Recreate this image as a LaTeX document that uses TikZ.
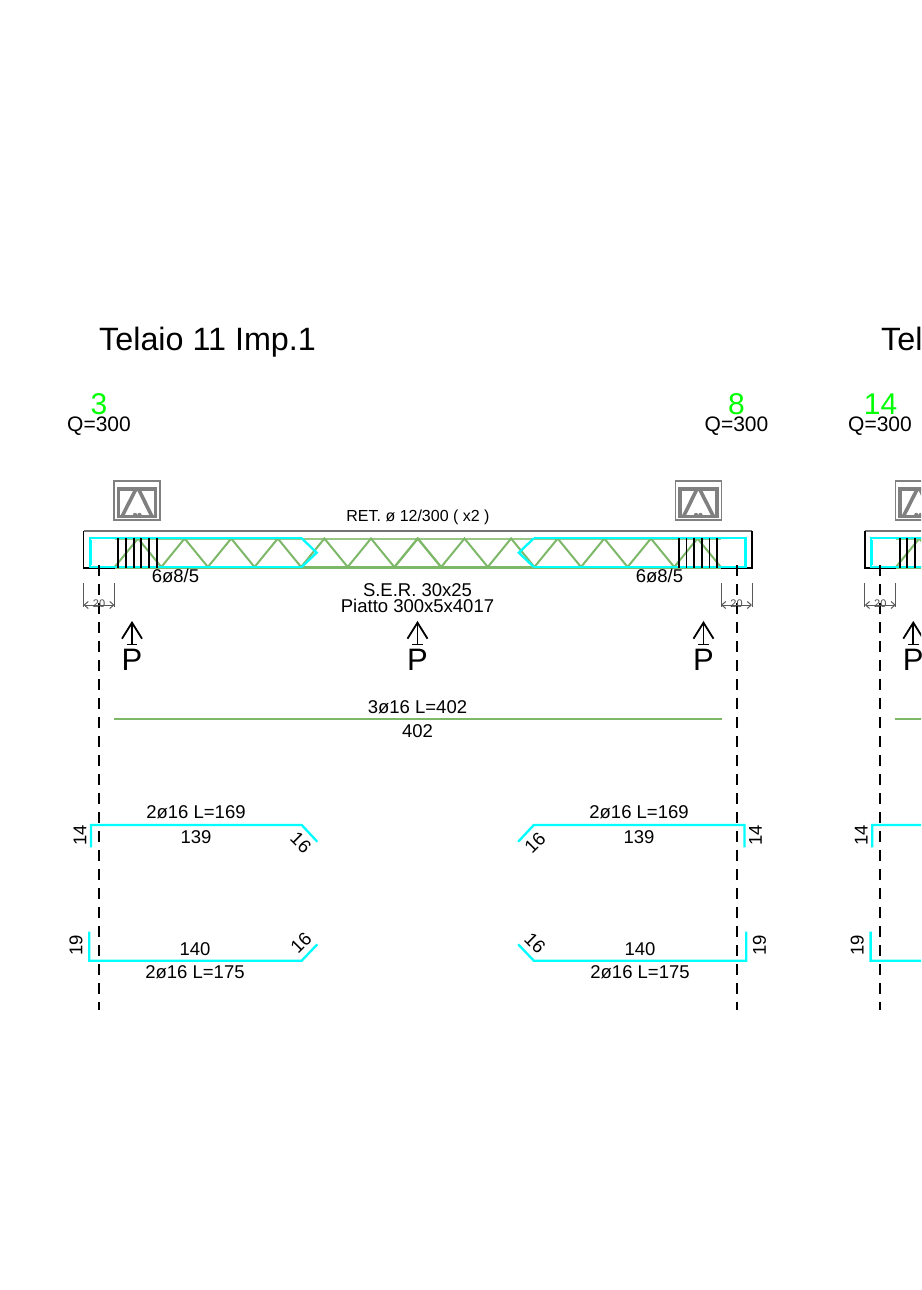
\documentclass[tikz,border=0pt]{standalone}
\usepackage{fontspec}
\setmainfont{Liberation Sans}
\usetikzlibrary{arrows.meta,positioning}
\definecolor{barcyan}{HTML}{00FFFF}
\definecolor{trussgreen}{HTML}{7DB868}
\definecolor{markgreen}{HTML}{00FF00}
\definecolor{sectgray}{HTML}{808080}
\tikzset{
    %Define text styles
    lbl/.style={
           anchor=base,
           inner sep=0pt,
           font=\fontsize{18.5}{20}\selectfont},
    ret/.style={lbl, font=\fontsize{16}{18}\selectfont},
    small/.style={lbl, font=\fontsize{11}{12}\selectfont, text=black!70},
    marknum/.style={lbl, text=markgreen, font=\fontsize{30}{32}\selectfont},
    load/.style={lbl, font=\fontsize{21}{23}\selectfont},
    title/.style={lbl, anchor=base west, font=\fontsize{32.3}{35}\selectfont},
    bigp/.style={lbl, font=\fontsize{31}{33}\selectfont},
    side/.style={inner sep=0pt, font=\fontsize{18.5}{20}\selectfont},
    %Define line styles
    rebar/.style={draw=barcyan, line width=2.3pt},
    truss/.style={draw=trussgreen, line width=2pt},
    stirrup/.style={draw=black, line width=1.9pt},
    axisline/.style={draw=black, line width=2pt, dash pattern=on 11pt off 8pt},
    sect/.style={draw=sectgray, line width=3.6pt},
    sectthin/.style={draw=sectgray, line width=1.6pt},
    dimline/.style={draw=black!65, line width=1pt},
    dimarrow/.style={dimline, {Straight Barb[length=4pt,width=7pt]}-{Straight Barb[length=4pt,width=7pt]}},
    parrow/.style={draw=black, line width=1.8pt, -{Straight Barb[length=16pt,width=20pt]}},
    pbar/.style={draw=black, line width=1.8pt}
}
% load mark with its letter
\newcommand{\loadp}[2]{
 \node[bigp] (#1) at (#2,670.7) {P};
 \draw[parrow] ([yshift=4.7pt]#1.north) -- ++(0,-23.5);
 \draw[pbar] ([xshift=-5.3pt,yshift=4.7pt]#1.north) -- ([xshift=5.3pt,yshift=4.7pt]#1.north);
}
% one half of a frame, drawn from its left end
\newcommand{\beamend}[1]{
 %section
 \draw[sectthin] (114,481) rectangle (160,520);
 \draw[sect] (118.5,516.5) -- (118.5,489) -- (155.5,489) -- (155.5,516.5) -- cycle;
 \draw[sect] (136,489) -- (122,516.5);
 \draw[sect] (138.5,489) -- (152,516.5);
 \fill[sectgray] (135,515) circle (2.2pt) (139.5,515) circle (2.2pt);
 %beam outline
 \draw[draw=black!55, line width=1.6pt] (83.5,531) -- (417.75,531);
 \draw[draw=black, line width=1.8pt] (83.5,531) -- (83.5,568) -- (115,568);
 %truss
 \draw[truss, draw=trussgreen!80] (115,538.5) -- (417.75,538.5);
 \draw[truss, line width=3pt] (115,567.3) -- (417.75,567.3);
 \foreach \k in {0,...,6}
   \draw[truss] (114.7+46.6*\k,567) -- (138+46.6*\k,538.5) -- (161.3+46.6*\k,567);
 %stirrup cage
 \draw[rebar] (301.7,538.3) -- (90,538.3) -- (90,567) -- (301.7,567);
 \draw[rebar] (301.7,538.3) -- (316.7,552.7) -- (301.7,567);
 \draw[rebar, line width=3pt] (90,540) -- (90,565);
 \foreach \k in {0,...,5}
   \draw[stirrup] (118.3+7.67*\k,538) -- (118.3+7.67*\k,568);
 %axis and support width
 \draw[axisline] (99,565) -- (99,1010);
 \draw[dimline] (83.5,583) -- (83.5,607) (114.5,583) -- (114.5,607);
 \draw[dimarrow] (83.5,605) -- (114.5,605);
 \node[small] (#1dim) at (99,607) {20};
 \loadp{#1p}{132}
 %bars
 \draw[truss] (114,719) -- (417.75,719);
 \draw[rebar] (91,847.3) -- (91,825) -- (301.7,825) -- (317.3,841.7);
 \draw[rebar] (89.3,931.7) -- (89.3,960.7) -- (301.7,960.7) -- (317.3,944.3);
 \node[side, rotate=90] (#1lega) at (80,835) {14};
 \node[side, rotate=90] (#1legb) at (76,945.5) {19};
}
\begin{document}
\begin{tikzpicture}[x=1pt,y=-1pt]
\path[use as bounding box, clip] (0,0) rectangle (921,1290);
\begin{scope}
\beamend{a}
\end{scope}
\begin{scope}[shift={(835.5,0)},xscale=-1]
\beamend{b}
\end{scope}
\begin{scope}[shift={(781.3,0)}]
\beamend{c}
\end{scope}
 %nodes
\node[title] (tit1) at (99,350) {Telaio 11 Imp.1};
\node[title] (tit2) at (881,350) {Tel};
\node[marknum] (m3) at (99,414) {3};
\node[marknum] (m8) at (736.5,414) {8};
\node[marknum] (m14) at (880.5,414) {14};
\node[load] (q3) at (99,431) {Q=300};
\node[load] (q8) at (736.5,431) {Q=300};
\node[load] (q14) at (880,431) {Q=300};
\node[ret] (rete) at (418,521.5) {RET. ø 12/300 ( x2 )};
\node[lbl] (st1) at (175.5,582) {6ø8/5};
\node[lbl] (st2) at (659.5,582) {6ø8/5};
\node[lbl] (ser) at (417.5,596) {S.E.R. 30x25};
\node[lbl] (pia) at (417.5,612) {Piatto 300x5x4017};
\loadp{pmid}{417.5}
\node[lbl] (l402) at (417.5,713) {3ø16 L=402};
\node[lbl] (v402) at (417.5,737) {402};
\node[lbl] (la1) at (196,818) {2ø16 L=169};
\node[lbl] (va1) at (196,843) {139};
\node[lbl] (la2) at (639,818) {2ø16 L=169};
\node[lbl] (va2) at (639,843) {139};
\node[lbl] (vb1) at (195,955) {140};
\node[lbl] (lb1) at (195,978) {2ø16 L=175};
\node[lbl] (vb2) at (640,955) {140};
\node[lbl] (lb2) at (640,978) {2ø16 L=175};
\node[side, rotate=-45] (h1) at (301,842.5) {16};
\node[side, rotate=45] (h2) at (301,943) {16};
\node[side, rotate=45] (h3) at (535,842.5) {16};
\node[side, rotate=-45] (h4) at (535,943) {16};
\end{tikzpicture}
\end{document}
